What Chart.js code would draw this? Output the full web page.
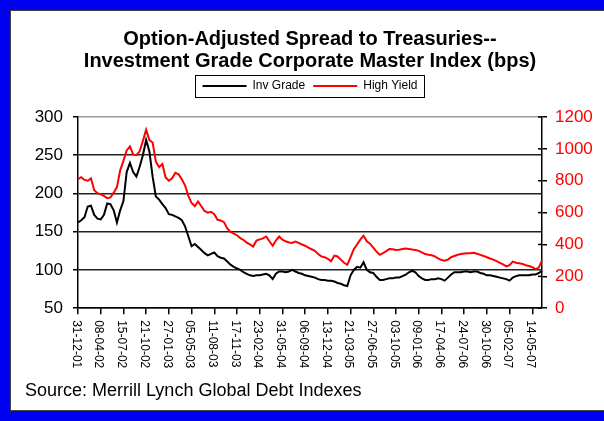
<!DOCTYPE html>
<html>
<head>
<meta charset="utf-8">
<script src="https://cdn.jsdelivr.net/npm/chart.js@4/dist/chart.umd.min.js"></script>
<style>
  html, body { margin: 0; padding: 0; }
  body { width: 604px; height: 421px; background: rgb(0, 0, 240); overflow: hidden; position: relative; }
  #frame { position: absolute; left: 10px; top: 10px; width: 620px; height: 399px; background: #fff; border: 1px solid #444; }
  #wrap { position: absolute; left: 0; top: 0; width: 604px; height: 421px; }
</style>
</head>
<body>
<div id="frame"></div>
<div id="wrap"><canvas id="spreadChart"></canvas></div>
<script>
// Dates printed under the x axis, one every 7 fortnightly readings
const tickLabels = ['31-12-01', '08-04-02', '15-07-02', '21-10-02', '27-01-03', '05-05-03',
  '11-08-03', '17-11-03', '23-02-04', '31-05-04', '06-09-04', '13-12-04', '21-03-05',
  '27-06-05', '03-10-05', '09-01-06', '17-04-06', '24-07-06', '30-10-06', '05-02-07', '14-05-07'];
const LABEL_STEP = 7;

// Investment grade OAS (bps, left axis)
const invGrade = [
  162, 165, 169, 183, 184, 172, 167, 166, 172, 187,
  186, 178, 162, 178, 190, 228, 240, 228, 222, 235,
  250, 270, 255, 222, 196, 192, 186, 181, 173, 172,
  170, 168, 165, 157, 144, 131, 134, 130, 126, 122,
  119, 121, 123, 118, 116, 115, 111, 107, 104, 102,
  100, 97, 95, 93, 92, 93, 93, 94, 95, 93,
  88, 95, 98, 98, 97, 98, 100, 98, 96, 95,
  93, 92, 91, 90, 88, 87, 87, 86, 86, 85,
  83, 82, 80, 79, 93, 100, 104, 103, 110, 100,
  97, 96, 91, 87, 87, 88, 89, 89, 90, 90,
  92, 94, 97, 99, 97, 92, 89, 87, 87, 88,
  88, 89, 88, 86, 90, 94, 97, 97, 97, 98,
  98, 97, 98, 98, 96, 95, 93, 93, 92, 91,
  90, 89, 88, 86, 90, 92, 93, 93, 93, 93,
  94, 94, 96, 99
];

// High yield OAS (bps, right axis)
const highYield = [
  810, 822, 805, 800, 815, 740, 722, 715, 705, 690,
  695, 725, 760, 865, 925, 990, 1015, 965, 960, 985,
  1050, 1120, 1055, 1040, 920, 885, 905, 820, 800, 815,
  850, 840, 810, 770, 705, 660, 640, 670, 640, 610,
  600, 605, 590, 555, 550, 540, 500, 478, 468, 458,
  440, 428, 412, 400, 387, 425, 432, 438, 450, 420,
  392, 425, 450, 430, 420, 412, 410, 418, 410, 400,
  392, 380, 370, 360, 340, 325, 320, 310, 295, 330,
  325, 305, 285, 272, 320, 370, 400, 430, 455, 420,
  405, 380, 355, 335, 345, 358, 372, 370, 365, 367,
  372, 375, 372, 368, 365, 360, 350, 340, 335, 332,
  325, 312, 302, 298, 305, 320, 328, 335, 340, 343,
  345, 345, 348, 342, 335, 328, 320, 312, 305, 295,
  285, 275, 262, 270, 292, 285, 282, 278, 270, 265,
  258, 245, 255, 300
];

const FONT = '"Liberation Sans", Arial, sans-serif';
const categories = invGrade.map((v, i) => i % LABEL_STEP === 0 ? tickLabels[i / LABEL_STEP] : '');

// Extra drawing: downward date labels, inner right-axis ticks, legend frame
const chartExtras = {
  id: 'chartExtras',
  afterDraw(chart) {
    const { ctx, legend } = chart;
    const x = chart.scales.x;
    const y1 = chart.scales.y1;
    ctx.save();

    ctx.font = '12px ' + FONT;
    ctx.fillStyle = '#000';
    ctx.textAlign = 'left';
    ctx.textBaseline = 'middle';
    tickLabels.forEach((label, i) => {
      const px = x.getPixelForValue(i * LABEL_STEP);
      ctx.save();
      ctx.translate(px - 2, x.top + 12);
      ctx.rotate(Math.PI / 2);
      ctx.fillText(label, 0, 0);
      ctx.restore();
    });

    ctx.strokeStyle = '#000';
    ctx.lineWidth = 1.5;
    y1.ticks.forEach(t => {
      const py = y1.getPixelForValue(t.value);
      ctx.beginPath();
      ctx.moveTo(y1.left - 4, py);
      ctx.lineTo(y1.left, py);
      ctx.stroke();
    });

    const boxes = legend.legendHitBoxes;
    if (boxes && boxes.length) {
      const l = Math.min(...boxes.map(b => b.left)) - 8;
      const r = Math.max(...boxes.map(b => b.left + b.width)) + 6;
      const t = Math.min(...boxes.map(b => b.top)) - 5;
      const btm = Math.max(...boxes.map(b => b.top + b.height)) + 5;
      ctx.lineWidth = 1;
      ctx.strokeRect(Math.round(l) + 0.5, Math.round(t) + 0.5, Math.round(r - l), Math.round(btm - t));
    }
    ctx.restore();
  }
};

const ctx = document.getElementById('spreadChart').getContext('2d');
new Chart(ctx, {
  type: 'line',
  data: {
    labels: categories,
    datasets: [
      {
        label: 'Inv Grade',
        data: invGrade,
        borderColor: '#000',
        backgroundColor: '#000',
        borderWidth: 2,
        pointRadius: 0,
        xAxisID: 'x',
        yAxisID: 'y'
      },
      {
        label: 'High Yield',
        data: highYield,
        borderColor: '#ff0000',
        backgroundColor: '#ff0000',
        borderWidth: 2,
        pointRadius: 0,
        xAxisID: 'x',
        yAxisID: 'y1'
      }
    ]
  },
  options: {
    responsive: true,
    maintainAspectRatio: false,
    animation: false,
    layout: { padding: { left: 25, right: 0, top: 0, bottom: 20 } },
    plugins: {
      title: {
        display: true,
        fullSize: false,
        text: ['Option-Adjusted Spread to Treasuries--', 'Investment Grade Corporate Master Index (bps)'],
        color: '#000',
        font: { family: FONT, size: 20, weight: 'bold', lineHeight: 1.1 },
        padding: { top: 28, bottom: 0 }
      },
      legend: {
        display: true,
        fullSize: false,
        labels: {
          color: '#000',
          font: { family: FONT, size: 12 },
          usePointStyle: true,
          pointStyle: 'line',
          pointStyleWidth: 44,
          padding: 8
        }
      },
      subtitle: {
        display: true,
        position: 'bottom',
        align: 'start',
        text: 'Source: Merrill Lynch Global Debt Indexes',
        color: '#000',
        font: { family: FONT, size: 18, lineHeight: 1.1 },
        padding: 0
      },
      tooltip: { enabled: false }
    },
    scales: {
      x: {
        type: 'category',
        ticks: { display: false, autoSkip: false },
        grid: {
          drawOnChartArea: false,
          tickLength: 6,
          lineWidth: 1.5,
          color: c => c.index % LABEL_STEP === 0 ? '#000' : 'rgba(0,0,0,0)'
        },
        border: { color: '#000', width: 1.5 },
        afterFit: s => { s.height = 73; }
      },
      // empty band between the legend and the plot
      gap: {
        type: 'category',
        position: 'top',
        ticks: { display: false },
        grid: { display: false },
        border: { display: false },
        afterFit: s => { s.height = 15; }
      },
      y: {
        position: 'left',
        min: 50,
        max: 300,
        ticks: { stepSize: 50, color: '#000', padding: 10, font: { family: FONT, size: 17 } },
        grid: {
          color: c => c.tick && c.tick.value === 300 ? '#999' : '#222',
          tickColor: '#000',
          lineWidth: 1.5,
          tickLength: 5
        },
        border: { color: '#000', width: 1.5 },
        afterFit: s => { s.width = 53; }
      },
      y1: {
        position: 'right',
        min: 0,
        max: 1200,
        ticks: {
          stepSize: 200,
          color: '#ff0000',
          padding: 8,
          font: { family: FONT, size: 17 },
          callback: v => String(v)
        },
        grid: { drawOnChartArea: false, color: '#000', lineWidth: 1.5, tickLength: 5 },
        border: { color: '#000', width: 1.5 },
        afterFit: s => { s.width = 62; }
      }
    }
  },
  plugins: [chartExtras]
});
</script>
</body>
</html>
